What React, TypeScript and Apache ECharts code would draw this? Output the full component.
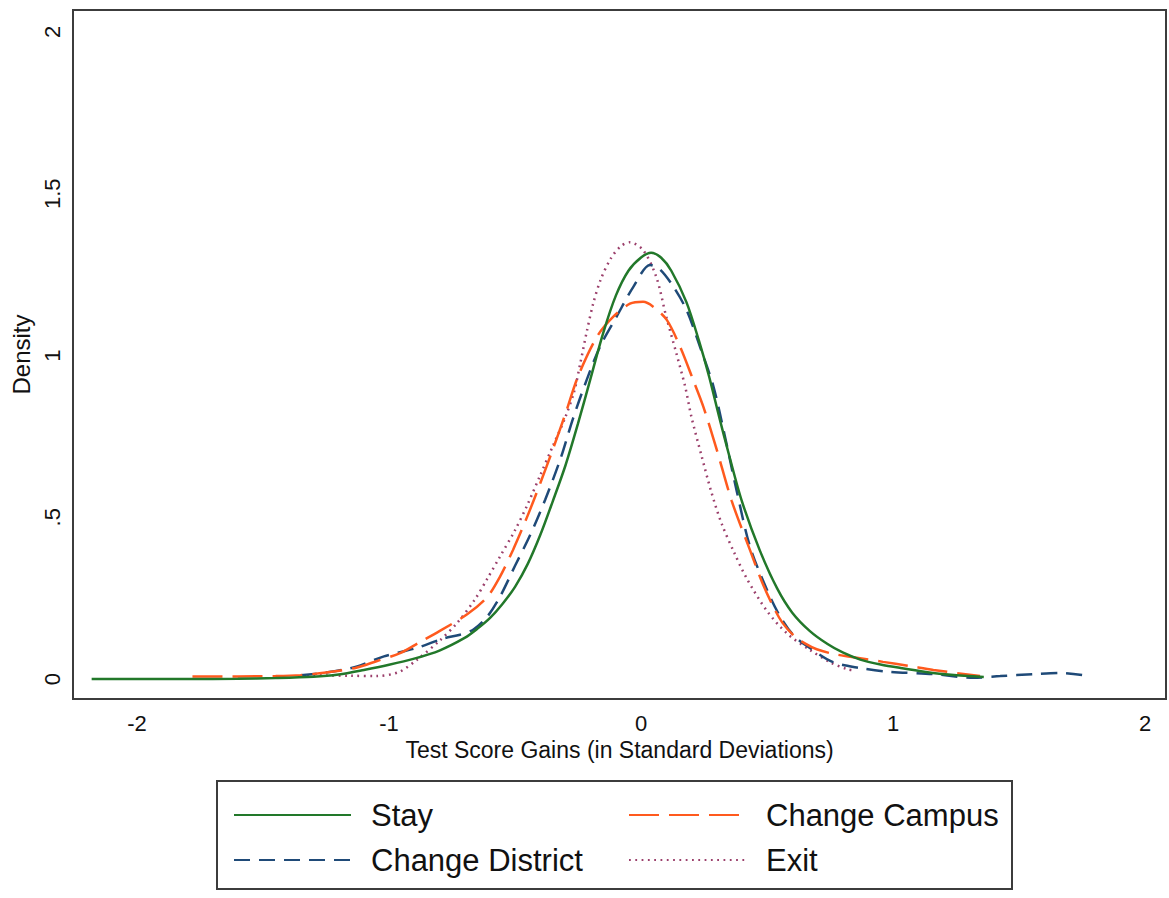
import React, { useEffect, useRef } from "react";
import * as echarts from "echarts";

const FONT = "'Liberation Sans', Arial, Helvetica, sans-serif";

const seriesNames = ["Stay", "Change Campus", "Change District", "Exit"];
const seriesColors = ["#22782a", "#ff5a1e", "#1f4a78", "#9b3f6b"];

const xTickValues = [-2, -1, 0, 1, 2];
const yTickValues = [0, 0.5, 1, 1.5, 2];
const yTickLabels = ["0", ".5", "1", "1.5", "2"];

const stay = [
  [-2.18, 0], [-2.0, 0], [-1.8, 0], [-1.6, 0.001], [-1.45, 0.003], [-1.3, 0.007],
  [-1.2, 0.014], [-1.1, 0.028], [-1.0, 0.044], [-0.9, 0.063], [-0.8, 0.088],
  [-0.7, 0.127], [-0.65, 0.155], [-0.6, 0.188], [-0.55, 0.232], [-0.5, 0.285],
  [-0.45, 0.355], [-0.4, 0.445], [-0.35, 0.55], [-0.3, 0.66], [-0.25, 0.79],
  [-0.2, 0.93], [-0.15, 1.07], [-0.1, 1.185], [-0.05, 1.262], [0, 1.303],
  [0.04, 1.318], [0.08, 1.302], [0.12, 1.262], [0.18, 1.165], [0.23, 1.045],
  [0.27, 0.935], [0.31, 0.81], [0.35, 0.69], [0.4, 0.55], [0.47, 0.4],
  [0.54, 0.28], [0.6, 0.205], [0.67, 0.148], [0.74, 0.108], [0.8, 0.082],
  [0.87, 0.06], [0.95, 0.045], [1.03, 0.034], [1.13, 0.022], [1.23, 0.013],
  [1.36, 0.006],
];

const changeCampus = [
  [-1.78, 0.008], [-1.6, 0.008], [-1.45, 0.009], [-1.35, 0.012], [-1.25, 0.02],
  [-1.13, 0.035], [-1.05, 0.055], [-0.956, 0.08], [-0.88, 0.113], [-0.8, 0.148],
  [-0.69, 0.2], [-0.61, 0.254], [-0.56, 0.316], [-0.508, 0.399], [-0.45, 0.505],
  [-0.4, 0.605], [-0.35, 0.71], [-0.3, 0.82], [-0.25, 0.935], [-0.175, 1.058],
  [-0.11, 1.12], [-0.044, 1.16], [0.008, 1.166], [0.048, 1.151], [0.102, 1.11],
  [0.155, 1.027], [0.207, 0.924], [0.247, 0.842], [0.3, 0.71], [0.36, 0.55],
  [0.432, 0.399], [0.48, 0.3], [0.525, 0.223], [0.56, 0.175], [0.605, 0.135],
  [0.65, 0.11], [0.697, 0.092], [0.76, 0.078], [0.83, 0.069], [0.96, 0.053],
  [1.06, 0.041], [1.16, 0.028], [1.345, 0.009],
];

const changeDistrict = [
  [-1.35, 0.012], [-1.25, 0.02], [-1.13, 0.038], [-1.02, 0.07], [-0.89, 0.096],
  [-0.785, 0.125], [-0.718, 0.137], [-0.665, 0.153], [-0.61, 0.193], [-0.56, 0.254],
  [-0.5, 0.35], [-0.44, 0.445], [-0.38, 0.555], [-0.32, 0.68], [-0.27, 0.805],
  [-0.216, 0.924], [-0.163, 1.027], [-0.097, 1.12], [-0.03, 1.213], [0.036, 1.28],
  [0.075, 1.266], [0.128, 1.213], [0.181, 1.14], [0.234, 1.027], [0.287, 0.905],
  [0.33, 0.76], [0.38, 0.58], [0.432, 0.41], [0.5, 0.275], [0.552, 0.193],
  [0.605, 0.135], [0.67, 0.096], [0.762, 0.052], [0.869, 0.034], [0.975, 0.023],
  [1.16, 0.015], [1.32, 0.004], [1.425, 0.009], [1.556, 0.015], [1.663, 0.019],
  [1.754, 0.012],
];

const exitData = [
  [-1.35, 0.012], [-1.25, 0.011], [-1.15, 0.01], [-1.05, 0.009], [-0.96, 0.022],
  [-0.89, 0.059], [-0.8, 0.118], [-0.73, 0.173], [-0.66, 0.245], [-0.61, 0.31],
  [-0.56, 0.378], [-0.5, 0.46], [-0.45, 0.54], [-0.4, 0.63], [-0.35, 0.72],
  [-0.3, 0.81], [-0.265, 0.89], [-0.24, 0.98], [-0.215, 1.075], [-0.19, 1.16],
  [-0.16, 1.235], [-0.12, 1.3], [-0.08, 1.338], [-0.044, 1.35], [0.008, 1.326],
  [0.06, 1.244], [0.1, 1.12], [0.14, 1.007], [0.175, 0.904], [0.2, 0.81],
  [0.24, 0.69], [0.28, 0.575], [0.32, 0.48], [0.37, 0.39], [0.42, 0.31],
  [0.5, 0.21], [0.58, 0.14], [0.67, 0.09], [0.75, 0.052], [0.82, 0.03], [0.85, 0.027],
];

const seriesData = [stay, changeCampus, changeDistrict, exitData];
const dashTypes: any[] = ["solid", [30, 10], [16, 9], [1.8, 4.5]];

export default function App() {
  const ref = useRef<HTMLDivElement>(null);
  useEffect(() => {
    if (!ref.current) return;
    const chart = echarts.init(ref.current, null, { renderer: "svg" });
    const textBase = { color: "#111", fontFamily: FONT };
    const legendCommon = {
      orient: "vertical",
      top: 799,
      padding: 0,
      itemWidth: 117,
      itemHeight: 14,
      itemGap: 13,
      selectedMode: false,
      itemStyle: { opacity: 0 },
      textStyle: { ...textBase, fontSize: 31, lineHeight: 32, padding: [0, 0, 0, 15] },
    };
    chart.setOption({
      animation: false,
      backgroundColor: "#ffffff",
      grid: {
        left: 73, top: 10, width: 1093, height: 689,
        show: true, borderColor: "#3c3c3c", borderWidth: 2,
      },
      xAxis: {
        type: "value",
        min: -2.254,
        max: 2.083,
        name: "Test Score Gains (in Standard Deviations)",
        nameLocation: "middle",
        nameGap: 29,
        nameTextStyle: { ...textBase, fontSize: 23 },
        axisLine: { show: false },
        axisTick: { show: false },
        splitLine: { show: false },
        axisLabel: {
          ...textBase,
          customValues: xTickValues,
          fontSize: 22,
          margin: 13,
          formatter: (v: number) => String(v),
        },
      },
      yAxis: {
        type: "value",
        min: -0.0618,
        max: 2.068,
        name: "Density",
        nameLocation: "middle",
        nameGap: 40,
        nameTextStyle: { ...textBase, fontSize: 24 },
        axisLine: { show: false },
        axisTick: { show: false },
        splitLine: { show: false },
        axisLabel: {
          ...textBase,
          customValues: yTickValues,
          fontSize: 22,
          margin: 10,
          rotate: 90,
          formatter: (v: number) => {
            const i = yTickValues.findIndex((t) => Math.abs(t - v) < 1e-9);
            return i >= 0 ? yTickLabels[i] : "";
          },
        },
      },
      legend: [
        { ...legendCommon, left: 233, data: [seriesNames[0], seriesNames[2]] },
        { ...legendCommon, left: 628, data: [seriesNames[1], seriesNames[3]] },
      ],
      graphic: [
        {
          type: "rect",
          shape: { x: 217, y: 781, width: 795, height: 108 },
          style: { fill: "none", stroke: "#3c3c3c", lineWidth: 2 },
          silent: true,
        },
      ],
      series: seriesNames.map((name, i) => ({
        name,
        type: "line",
        data: seriesData[i],
        smooth: 0.3,
        symbol: "none",
        showSymbol: false,
        color: seriesColors[i],
        lineStyle: { color: seriesColors[i], width: 2.5, type: dashTypes[i] },
        z: 10 - i,
      })),
    });
    return () => chart.dispose();
  }, []);
  return (
    <div
      ref={ref}
      style={{ position: "absolute", left: 0, top: 0, width: 1169, height: 898, background: "#fff" }}
    />
  );
}
